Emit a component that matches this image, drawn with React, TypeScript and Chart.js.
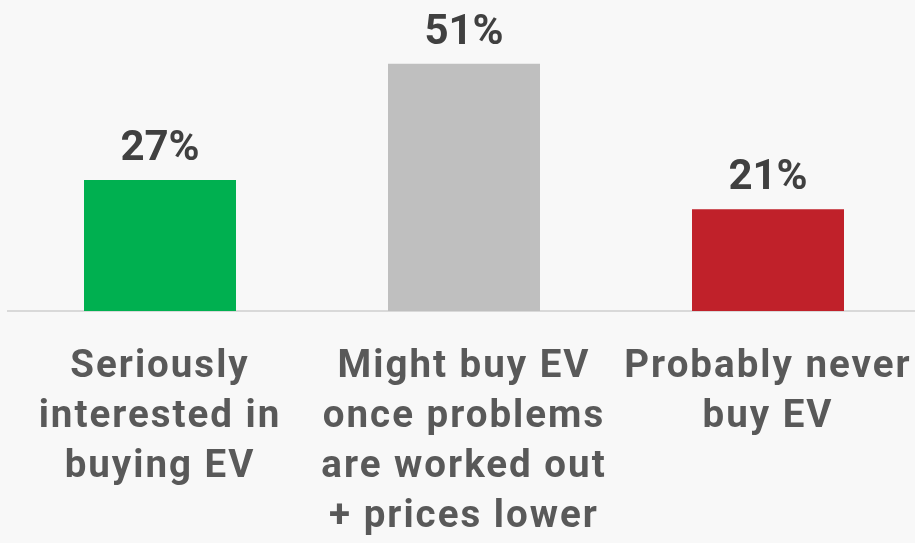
import React, { useEffect, useRef } from "react";
import { Chart, registerables } from "chart.js";

Chart.register(...registerables);

const categories: string[][] = [
  ["Seriously", "interested in", "buying EV"],
  ["Might buy EV", "once problems", "are worked out", "+ prices lower"],
  ["Probably never", "buy EV"],
];
const values: number[] = [27, 51, 21];
const barColors: string[] = ["#00B050", "#BFBFBF", "#C0212A"];
const valueLabels: string[] = ["27%", "51%", "21%"];

const FONT = "Roboto";

const spacingPlugin = {
  id: "tickSpacing",
  beforeDraw(chart: any) {
    (chart.ctx as any).letterSpacing = "2px";
  },
};

const valueLabelPlugin = {
  id: "valueLabels",
  afterDatasetsDraw(chart: any) {
    const ctx = chart.ctx;
    const meta = chart.getDatasetMeta(0);
    ctx.save();
    (ctx as any).letterSpacing = "0px";
    ctx.font = `bold 42px ${FONT}`;
    ctx.fillStyle = "#404040";
    ctx.textAlign = "center";
    ctx.textBaseline = "alphabetic";
    meta.data.forEach((bar: any, i: number) => {
      ctx.fillText(valueLabels[i], bar.x, bar.y - 20);
    });
    ctx.restore();
  },
};

export default function App() {
  const ref = useRef<HTMLCanvasElement | null>(null);

  useEffect(() => {
    document.body.style.margin = "0";
    document.body.style.background = "#F8F8F8";
    document.body.style.overflow = "hidden";
    const canvas = ref.current;
    if (!canvas) return;
    const chart = new Chart(canvas, {
      type: "bar",
      data: {
        labels: categories,
        datasets: [
          {
            data: values,
            backgroundColor: barColors,
            borderWidth: 0,
            categoryPercentage: 1,
            barPercentage: 0.5,
          },
        ],
      },
      options: {
        animation: false,
        responsive: false,
        layout: { padding: { left: 8, top: 20, right: 0, bottom: 0 } },
        plugins: {
          legend: { display: false },
          tooltip: { enabled: false },
        },
        scales: {
          x: {
            grid: { display: false, drawTicks: false },
            border: { display: true, color: "#D9D9D9", width: 2 },
            ticks: {
              color: "#595959",
              font: { family: FONT, size: 38.5, weight: "bold", lineHeight: 1.2987 },
              padding: 31,
              maxRotation: 0,
              autoSkip: false,
            },
            afterFit: (scale: any) => {
              scale.height = 232;
              scale.paddingLeft = 0;
              scale.paddingRight = 0;
            },
          },
          y: {
            display: false,
            min: 0,
            max: 60,
          },
        },
      },
      plugins: [spacingPlugin, valueLabelPlugin],
    });
    return () => chart.destroy();
  }, []);

  return (
    <div style={{ width: 915, height: 543, overflow: "hidden", background: "#F8F8F8" }}>
      <canvas ref={ref} width={920} height={543} style={{ width: 920, height: 543, display: "block" }} />
    </div>
  );
}
